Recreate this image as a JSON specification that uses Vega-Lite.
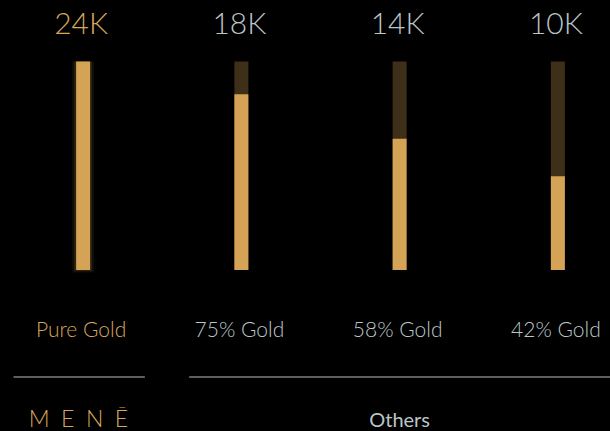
{
  "$schema": "https://vega.github.io/schema/vega-lite/v6.json",
  "width": 610,
  "height": 431,
  "autosize": "none",
  "padding": 0,
  "background": "#000000",
  "config": {"view": {"stroke": null}, "text": {"font": "Lato"}},
  "datasets": {
    "karats": [
      {"karat": "24K", "purity": "Pure Gold", "gold": 100, "full": 100},
      {"karat": "18K", "purity": "75% Gold", "gold": 84.3, "full": 100},
      {"karat": "14K", "purity": "58% Gold", "gold": 63, "full": 100},
      {"karat": "10K", "purity": "42% Gold", "gold": 45, "full": 100}
    ],
    "groups": [
      {"group": "MENĒ", "label": "M\u2002E\u2002N\u2002Ē", "from": "24K", "to": "24K", "center": "24K"},
      {"group": "Others", "label": "Others", "from": "18K", "to": "10K", "center": "14K"}
    ]
  },
  "encoding": {
    "x": {
      "field": "karat",
      "type": "nominal",
      "axis": null,
      "scale": {"domain": ["24K", "18K", "14K", "10K"], "range": [4, 637], "paddingInner": 0, "paddingOuter": 0}
    }
  },
  "layer": [
    {
      "data": {"name": "karats"},
      "transform": [{"filter": "datum.karat === '24K'"}],
      "mark": {"type": "bar", "size": 22, "color": "#d6a75c", "opacity": 0.07},
      "encoding": {
        "y": {"field": "gold", "type": "quantitative", "axis": null, "scale": {"domain": [-77.2, 129.5], "nice": false, "zero": false}},
        "y2": {"datum": -1.2}
      }
    },
    {
      "data": {"name": "karats"},
      "transform": [{"filter": "datum.karat === '24K'"}],
      "mark": {"type": "bar", "size": 18, "color": "#d6a75c", "opacity": 0.14},
      "encoding": {
        "y": {"field": "gold", "type": "quantitative", "axis": null, "scale": {"domain": [-77.2, 129.5], "nice": false, "zero": false}},
        "y2": {"datum": -0.6}
      }
    },
    {
      "data": {"name": "karats"},
      "mark": {"type": "bar", "size": 14, "color": "#3e2f18"},
      "encoding": {
        "y": {"field": "full", "type": "quantitative", "axis": null, "scale": {"domain": [-77.2, 129.5], "nice": false, "zero": false}},
        "y2": {"datum": 0}
      }
    },
    {
      "data": {"name": "karats"},
      "mark": {"type": "bar", "size": 14, "color": "#d4a356"},
      "encoding": {
        "y": {"field": "gold", "type": "quantitative", "axis": null},
        "y2": {"datum": 0}
      }
    },
    {
      "data": {"name": "karats"},
      "mark": {"type": "text", "fontSize": 30, "fontWeight": 300, "baseline": "alphabetic", "align": "center", "dx": -2},
      "encoding": {
        "y": {"datum": 113.2, "type": "quantitative"},
        "text": {"field": "karat"},
        "color": {"condition": {"test": "datum.karat === '24K'", "value": "#d7a65c"}, "value": "#bcc5c8"}
      }
    },
    {
      "data": {"name": "karats"},
      "mark": {"type": "text", "fontSize": 21, "fontWeight": 300, "baseline": "alphabetic", "align": "center", "dx": -2},
      "encoding": {
        "y": {"datum": -32.1, "type": "quantitative"},
        "text": {"field": "purity"},
        "color": {"condition": {"test": "datum.karat === '24K'", "value": "#d7a65c"}, "value": "#bcc5c8"}
      }
    },
    {
      "data": {"name": "groups"},
      "transform": [{"filter": "datum.group === 'MENĒ'"}],
      "mark": {"type": "rule", "color": "#7b8080", "strokeWidth": 1.3},
      "encoding": {
        "x": {"field": "from", "type": "nominal", "bandPosition": 0.06},
        "x2": {"field": "to", "bandPosition": 0.89},
        "y": {"datum": -51.3, "type": "quantitative"}
      }
    },
    {
      "data": {"name": "groups"},
      "transform": [{"filter": "datum.group === 'Others'"}],
      "mark": {"type": "rule", "color": "#7b8080", "strokeWidth": 1.3},
      "encoding": {
        "x": {"field": "from", "type": "nominal", "bandPosition": 0.17},
        "x2": {"field": "to", "bandPosition": 1},
        "y": {"datum": -51.3, "type": "quantitative"}
      }
    },
    {
      "data": {"name": "groups"},
      "transform": [{"filter": "datum.group === 'MENĒ'"}],
      "mark": {"type": "text", "baseline": "alphabetic", "align": "center", "fontSize": 23, "fontWeight": 300, "color": "#d7a65c"},
      "encoding": {
        "x": {"field": "center", "type": "nominal", "bandPosition": 0.47},
        "y": {"datum": -75.5, "type": "quantitative"},
        "text": {"field": "label"}
      }
    },
    {
      "data": {"name": "groups"},
      "transform": [{"filter": "datum.group === 'Others'"}],
      "mark": {"type": "text", "baseline": "alphabetic", "align": "center", "fontSize": 20, "fontWeight": 400, "color": "#bcc5c8"},
      "encoding": {
        "x": {"field": "center", "type": "nominal", "bandPosition": 0.5},
        "y": {"datum": -75.5, "type": "quantitative"},
        "text": {"field": "label"}
      }
    }
  ]
}
